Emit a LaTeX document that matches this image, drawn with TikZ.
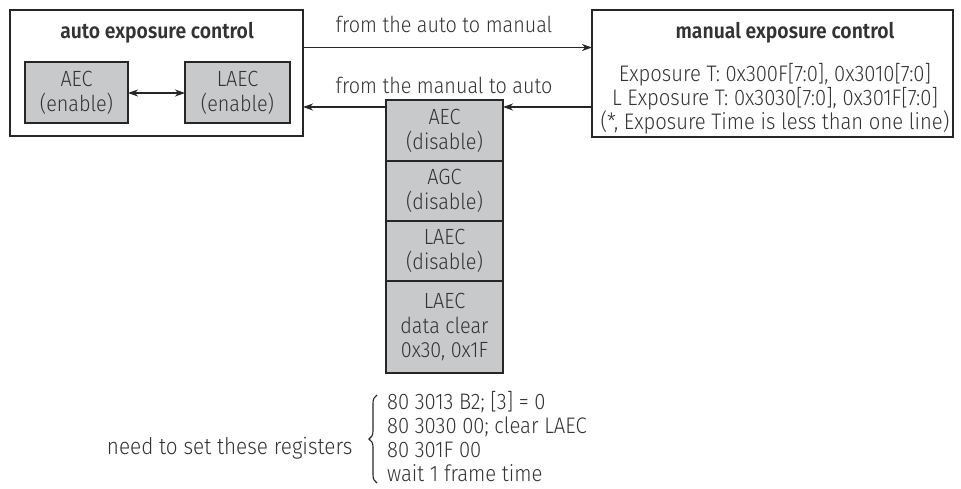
\documentclass[tikz,border=0pt]{standalone}
\usepackage{fontspec}
\setmainfont{Fira Sans}[UprightFont=* Light, BoldFont=* SemiBold, FakeStretch=0.9]
\usetikzlibrary{arrows.meta,decorations.pathreplacing}
\definecolor{txt}{HTML}{333333}
\definecolor{boxfill}{HTML}{C8C9CB}
\begin{document}
\begin{tikzpicture}[x=1pt,y=-1pt,
  every node/.style={text=txt, font=\fontsize{22}{25}\selectfont},
  frame/.style={draw=black!85, line width=2.2pt},
  gbox/.style={draw=black!85, line width=2.2pt, fill=boxfill, align=center},
  title/.style={font=\bfseries\fontsize{21.5}{24}\selectfont},
  regline/.style={anchor=base west, inner sep=0pt, font=\fontsize{22.5}{25}\selectfont},
  conn/.style={draw=black!85, line width=1.1pt, -{Stealth[length=10pt,width=7pt,inset=3pt]}}]
\useasboundingbox (0,0) rectangle (961,488);
% left box
\draw[frame] (10,10) rectangle (303,136);
\node[title] (t1) at (157,33) {auto exposure control};
\draw[gbox] (25,62) rectangle (128,123);
\node[align=center] (aec) at (76.5,92.5) {AEC\\(enable)};
\draw[gbox] (185,62) rectangle (290,123);
\node[align=center] (laec) at (237.5,92.5) {LAEC\\(enable)};
\coordinate (a1) at (128,93); \coordinate (a2) at (185,93);
\draw[draw=black!85, line width=1.1pt, {Stealth[length=10pt,width=7pt,inset=3pt]}-{Stealth[length=10pt,width=7pt,inset=3pt]}] (a1) -- (a2);
% right box
\draw[frame] (592,10) rectangle (953,137);
\node[title] (t2) at (785,33) {manual exposure control};
\node[align=center, font=\fontsize{22.5}{20.5}\selectfont] (mtxt) at (775,99) {Exposure T: 0x300F[7:0], 0x3010[7:0]\\L Exposure T: 0x3030[7:0], 0x301F[7:0]\\(*, Exposure Time is less than one line)};
% top arrow
\coordinate (p1) at (303,47.5); \coordinate (p2) at (592,47.5);
\draw[conn] (p1) -- (p2);
\node (l1) at (444,24) {from the auto to manual};
% stack
\draw[gbox] (386,100) rectangle (503,161);
\draw[gbox] (386,161) rectangle (503,221);
\draw[gbox] (386,221) rectangle (503,281);
\draw[gbox] (386,281) rectangle (503,373);
\node[align=center] (s1) at (444.5,130.5) {AEC\\(disable)};
\node[align=center] (s2) at (444.5,191) {AGC\\(disable)};
\node[align=center] (s3) at (444.5,251) {LAEC\\(disable)};
\node[align=center, font=\fontsize{22}{24.5}\selectfont] (s4) at (444.5,327) {LAEC\\data clear\\0x30, 0x1F};
% bottom arrows
\coordinate (q1) at (592,107); \coordinate (q2) at (503,107);
\coordinate (q3) at (386,107); \coordinate (q4) at (303,107);
\draw[conn] (q1) -- (q2);
\draw[conn] (q3) -- (q4);
\node (l2) at (444,85) {from the manual to auto};
% brace
\coordinate (b1) at (377,483); \coordinate (b2) at (377,395);
\draw[draw=black!85, line width=1.1pt, decorate, decoration={brace, amplitude=8pt}] (b1) -- (b2);
\node[anchor=base east, font=\fontsize{23}{25}\selectfont] (need) at (356,454) {need to set these registers};
\node[regline] (r1) at (387,409) {80 3013 B2; [3] = 0};
\node[regline] (r2) at (387,433) {80 3030 00; clear LAEC};
\node[regline] (r3) at (387,457) {80 301F 00};
\node[regline] (r4) at (387,481) {wait 1 frame time};
\end{tikzpicture}
\end{document}
